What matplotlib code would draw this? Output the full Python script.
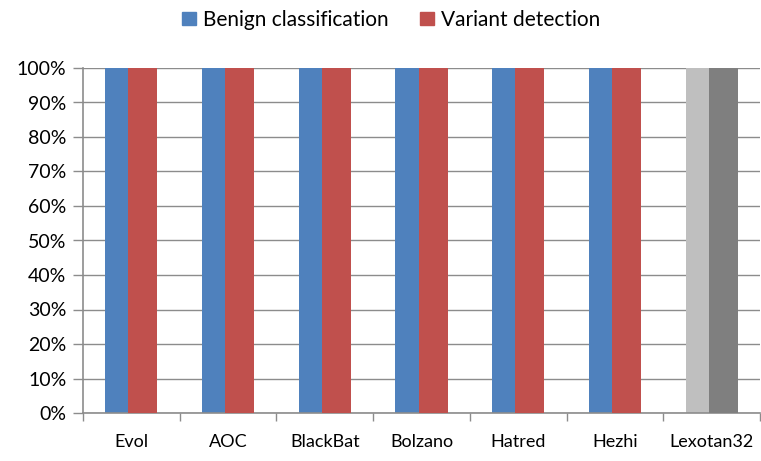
import matplotlib.pyplot as plt
import numpy as np
from matplotlib.patches import Patch
from matplotlib.ticker import PercentFormatter

plt.rcParams['font.family'] = ['Lato', 'DejaVu Sans']

families = ["Evol", "AOC", "BlackBat", "Bolzano", "Hatred", "Hezhi", "Lexotan32"]
benign = [1.0, 1.0, 1.0, 1.0, 1.0, 1.0, 1.0]
variant = [1.0, 1.0, 1.0, 1.0, 1.0, 1.0, 1.0]

blue, red = "#4F81BD", "#C0504D"
benign_colors = [blue] * 6 + ["#BFBFBF"]
variant_colors = [red] * 6 + ["#7F7F7F"]
grid_c = "#8C8C8C"

fig = plt.figure(figsize=(7.61, 4.61), dpi=100)
ax = fig.add_axes([83 / 761, 48 / 461, 677 / 761, 345 / 461])

x = np.arange(len(families))
ax.bar(x - 0.12, benign, width=0.30, color=benign_colors, zorder=2)
ax.bar(x + 0.12, variant, width=0.30, color=variant_colors, zorder=3)

ax.set_xlim(-0.5, len(families) - 0.5)
ax.set_ylim(0, 1.0)
ax.set_yticks(np.arange(0, 1.01, 0.1))
ax.yaxis.set_major_formatter(PercentFormatter(1.0, decimals=0))
ax.grid(axis="y", color=grid_c, linewidth=1.0, zorder=0)
ax.set_axisbelow(True)

ax.set_xticks(x)
ax.set_xticklabels(families)
ax.set_xticks(np.arange(-0.5, len(families)), minor=True)
ax.tick_params(axis="x", which="major", length=0, pad=15, labelsize=13)
ax.tick_params(axis="x", which="minor", length=6, color=grid_c, width=1)
ax.tick_params(axis="y", length=7, color=grid_c, width=1, labelsize=14, pad=5)

for s in ["top", "right"]:
    ax.spines[s].set_visible(False)
for s in ["left", "bottom"]:
    ax.spines[s].set_color(grid_c)
    ax.spines[s].set_linewidth(1.2)

handles = [Patch(color=blue, label="Benign classification"),
           Patch(color=red, label="Variant detection")]
fig.legend(handles=handles, loc="center", bbox_to_anchor=(0.514, 0.957), ncol=2,
           frameon=False, fontsize=15, handlelength=0.65, handleheight=0.65,
           handletextpad=0.35, columnspacing=1.5)

fig.savefig("out.png", dpi=100)
